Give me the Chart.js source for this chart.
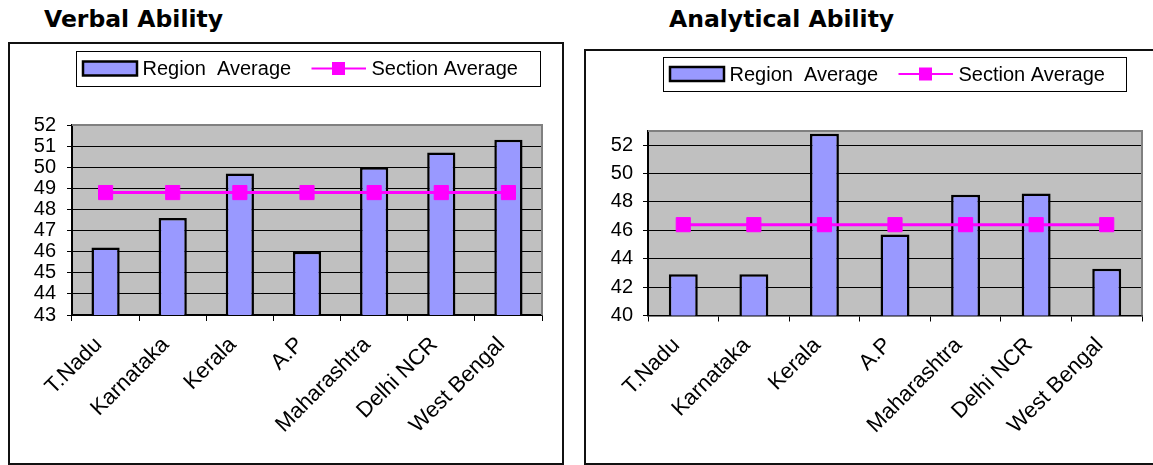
<!DOCTYPE html>
<html><head><meta charset="utf-8">
<script src="https://cdn.jsdelivr.net/npm/chart.js@4.4.0/dist/chart.umd.min.js"></script>
<style>
html,body{margin:0;padding:0;background:#fff;width:1153px;height:465px;overflow:hidden;position:relative}
.title{position:absolute;font-family:"DejaVu Sans",Verdana,sans-serif;font-weight:bold;font-size:23.5px;line-height:23px;color:#000;white-space:nowrap}
.box{position:absolute;border:2px solid #111;box-sizing:border-box;background:#fff}
.box canvas{position:absolute;left:0;top:0}
</style></head><body>
<div class="title" style="left:44px;top:8px">Verbal Ability</div>
<div class="title" style="left:669px;top:8px">Analytical Ability</div>
<div class="box" style="left:8px;top:42px;width:556px;height:423px"><canvas id="c1" width="552" height="419"></canvas></div>
<div class="box" style="left:584px;top:49px;width:600px;height:416px"><canvas id="c2" width="596" height="412"></canvas></div>
<script>
const categories = ["T.Nadu","Karnataka","Kerala","A.P","Maharashtra","Delhi NCR","West Bengal"];
const seriesLabels = ["Region  Average","Section Average"];
const verbalRegion = [46.2,47.6,49.7,46.0,50.0,50.7,51.3];
const verbalSection = [48.8,48.8,48.8,48.8,48.8,48.8,48.8];
const analyticalRegion = [42.9,42.9,52.8,45.7,48.5,48.6,43.3];
const analyticalSection = [46.4,46.4,46.4,46.4,46.4,46.4,46.4];
const verbalTicks = [43,44,45,46,47,48,49,50,51,52];
const analyticalTicks = [40,42,44,46,48,50,52];

const FONT = '"Liberation Sans", Arial, sans-serif';
Chart.defaults.color = '#000';
Chart.defaults.font.family = FONT;

const plotBg = {
  id:'plotBg',
  beforeDraw(chart){
    const a = chart.chartArea, ctx = chart.ctx;
    ctx.save(); ctx.fillStyle = '#C0C0C0';
    ctx.fillRect(a.left, a.top, a.right-a.left, a.bottom-a.top); ctx.restore();
  },
  beforeDatasetsDraw(chart){
    const a = chart.chartArea, ctx = chart.ctx;
    ctx.save(); ctx.strokeStyle = '#808080'; ctx.lineWidth = 2;
    ctx.beginPath(); ctx.moveTo(a.left, a.top); ctx.lineTo(a.right, a.top); ctx.lineTo(a.right, a.bottom); ctx.stroke();
    ctx.restore();
  }
};

const boxLegend = {
  id:'boxLegend',
  afterDraw(chart, args, L){
    const ctx = chart.ctx;
    const ds = chart.data.datasets;
    const bar = ds.find(d=>d.type==='bar'), line = ds.find(d=>d.type==='line');
    const cy = L.y + L.h/2;
    ctx.save();
    ctx.strokeStyle = '#000'; ctx.lineWidth = 1;
    ctx.strokeRect(L.x+0.5, L.y+0.5, L.w, L.h);
    ctx.fillStyle = bar.backgroundColor; ctx.fillRect(L.x+7, cy-7, 54, 14);
    ctx.lineWidth = 2.5; ctx.strokeStyle = '#000'; ctx.strokeRect(L.x+7, cy-7, 54, 14);
    ctx.font = '20px ' + FONT; ctx.fillStyle = '#000'; ctx.textBaseline = 'middle'; ctx.textAlign = 'left';
    ctx.fillText(bar.label, L.x+66.5, cy+1);
    ctx.strokeStyle = line.borderColor; ctx.lineWidth = 2;
    ctx.beginPath(); ctx.moveTo(L.x+235.5, cy); ctx.lineTo(L.x+290, cy); ctx.stroke();
    ctx.fillStyle = line.pointBackgroundColor; ctx.fillRect(L.x+262.5-6.5, cy-6.5, 13, 13);
    ctx.fillStyle = '#000'; ctx.fillText(line.label, L.x+295.5, cy+1);
    ctx.restore();
  }
};

function makeChart(id, region, section, tickVals, yMin, yMax, g){
  const cv = document.getElementById(id);
  return new Chart(cv, {
    data:{
      labels: categories,
      datasets:[
        {type:'line', label: seriesLabels[1], data: section, order:0,
         borderColor:'#FF00FF', borderWidth:3, pointStyle:'rect', pointRadius:10, pointHoverRadius:10,
         pointBackgroundColor:'#FF00FF', pointBorderColor:'#FF00FF', pointBorderWidth:1, tension:0},
        {type:'bar', label: seriesLabels[0], data: region, order:1,
         backgroundColor:'#9999FF', borderColor:'#000', borderWidth:2.5,
         barPercentage: g.barPct, categoryPercentage:1}
      ]
    },
    options:{
      responsive:false, animation:false, devicePixelRatio:1,
      layout:{padding:{left:0, top:g.plotT, right:g.W-g.plotR, bottom:0}},
      plugins:{legend:{display:false}, tooltip:{enabled:false}, title:{display:false},
        boxLegend: g.legend},
      scales:{
        x:{type:'category', offset:true,
           grid:{offset:true, drawOnChartArea:false, drawTicks:true, tickLength:6, color:'#000', tickColor:'#000'},
           border:{display:true, color:'#000', width:1.5},
           ticks:{autoSkip:false, minRotation:45, maxRotation:45, padding:g.xPad, labelOffset:-7, font:{size:22}, color:'#000'},
           afterFit(s){ s.height = g.H - g.plotB; }},
        y:{type:'linear', min:yMin, max:yMax,
           afterBuildTicks(s){ s.ticks = tickVals.map(v=>({value:v})); },
           grid:{color:'#000', lineWidth:1, drawTicks:true, tickLength:5, tickColor:'#000'},
           border:{display:true, color:'#000', width:2},
           ticks:{autoSkip:false, padding:g.yPad, font:{size:20}, color:'#000'},
           afterFit(s){ s.width = g.plotL; }}
      }
    },
    plugins:[plotBg, boxLegend]
  });
}

makeChart('c1', verbalRegion, verbalSection, verbalTicks, 43, 52,
  {W:552, H:419, plotL:62, plotR:532, plotT:81, plotB:271, barPct:0.42, xPad:11, yPad:11,
   legend:{x:66, y:7, w:464, h:35}});
makeChart('c2', analyticalRegion, analyticalSection, analyticalTicks, 40, 53,
  {W:596, H:412, plotL:62, plotR:556, plotT:80, plotB:264.5, barPct:0.41, xPad:11, yPad:10,
   legend:{x:77, y:6, w:463, h:34}});
</script>
</body></html>
